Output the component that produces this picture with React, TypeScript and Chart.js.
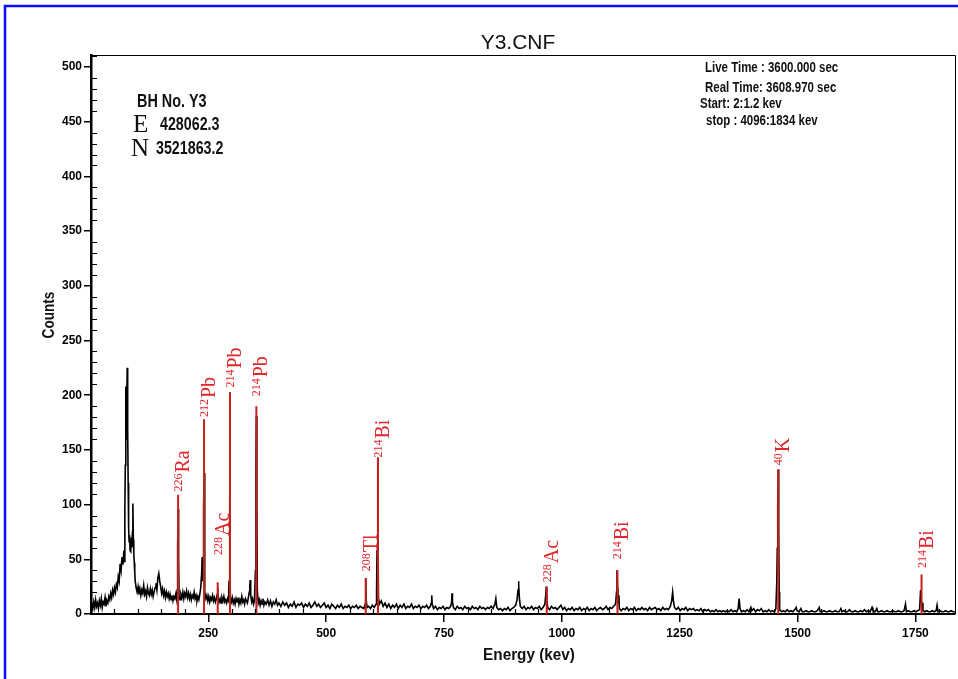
import React, { useEffect, useRef } from 'react';
import { Chart, registerables } from 'chart.js';

Chart.register(...registerables);

// ---- Spectrum (energy in keV, counts) ----
const energyKeV = [
  1.2, 3, 5, 7, 9, 11, 13, 15, 17, 19,
  21, 23, 25, 27, 29, 31, 33, 35, 37, 39,
  41, 43, 45, 47, 49, 51, 53, 55, 57, 59,
  61, 63, 65, 67, 69, 71, 72, 73, 74, 75,
  76, 77, 78, 79, 80, 81, 82, 83, 84, 85,
  86, 87, 88, 89, 90, 91, 92, 93, 94, 95,
  97, 99, 101, 103, 105, 107, 109, 111, 113, 115,
  117, 119, 121, 123, 125, 127, 129, 131, 133, 135,
  137, 139, 141, 143, 145, 147, 149, 151, 153, 155,
  157, 159, 161, 163, 165, 167, 169, 171, 173, 175,
  177, 179, 181, 183, 184, 185, 186, 187, 188, 190,
  192, 194, 196, 198, 200, 202, 204, 206, 208, 210,
  212, 214, 216, 218, 220, 222, 224, 226, 228, 230,
  232, 234, 236, 237, 238, 239, 240, 241, 242, 243,
  245, 247, 249, 251, 253, 255, 257, 259, 261, 263,
  265, 267, 269, 270, 271, 273, 275, 277, 279, 281,
  283, 285, 287, 289, 291, 293, 294, 295, 296, 297,
  299, 301, 303, 305, 307, 309, 311, 313, 315, 317,
  319, 321, 323, 325, 327, 329, 331, 333, 335, 337,
  338, 339, 340, 342, 344, 346, 348, 350, 351, 352,
  353, 354, 356, 358, 360, 362, 364, 366, 368, 370,
  373, 376, 379, 382, 385, 388, 391, 394, 397, 400,
  404, 408, 412, 416, 420, 424, 428, 432, 436, 440,
  444, 448, 452, 456, 460, 464, 468, 472, 476, 480,
  484, 488, 492, 496, 500, 504, 508, 512, 516, 520,
  524, 528, 532, 536, 540, 544, 548, 552, 556, 560,
  564, 568, 572, 576, 580, 583, 584, 585, 587, 590,
  594, 598, 602, 606, 607, 608, 609, 610, 611, 613,
  617, 621, 625, 629, 633, 637, 641, 645, 649, 653,
  657, 661, 665, 669, 673, 677, 681, 685, 689, 693,
  697, 701, 705, 709, 713, 717, 721, 723, 724, 725,
  728, 732, 736, 740, 744, 748, 752, 756, 760, 764,
  766, 767, 768, 770, 774, 778, 782, 786, 790, 794,
  798, 802, 806, 810, 814, 818, 822, 826, 830, 834,
  838, 842, 846, 850, 854, 858, 860, 862, 866, 870,
  874, 878, 882, 886, 890, 894, 898, 902, 905, 907,
  908, 909, 910, 912, 916, 920, 924, 928, 932, 936,
  940, 944, 948, 952, 956, 960, 964, 966, 967, 968,
  970, 974, 978, 982, 986, 990, 994, 998, 1002, 1006,
  1010, 1014, 1018, 1022, 1026, 1030, 1034, 1038, 1042, 1046,
  1050, 1054, 1058, 1062, 1066, 1070, 1074, 1078, 1082, 1086,
  1090, 1094, 1098, 1102, 1106, 1110, 1114, 1116, 1117, 1118,
  1119, 1121, 1122, 1126, 1130, 1134, 1138, 1142, 1146, 1150,
  1154, 1158, 1162, 1166, 1170, 1174, 1178, 1182, 1186, 1190,
  1194, 1198, 1202, 1206, 1210, 1214, 1218, 1222, 1226, 1230,
  1233, 1235, 1237, 1239, 1243, 1247, 1251, 1255, 1259, 1263,
  1267, 1271, 1275, 1279, 1283, 1287, 1291, 1295, 1299, 1303,
  1307, 1311, 1315, 1319, 1323, 1327, 1331, 1335, 1339, 1343,
  1347, 1351, 1355, 1359, 1363, 1367, 1371, 1374, 1376, 1378,
  1381, 1385, 1389, 1393, 1397, 1401, 1403, 1407, 1411, 1415,
  1419, 1423, 1427, 1431, 1435, 1439, 1443, 1447, 1451, 1454,
  1456, 1457, 1458, 1459, 1460, 1461, 1462, 1466, 1470, 1474,
  1478, 1482, 1486, 1490, 1494, 1497, 1499, 1503, 1507, 1510,
  1514, 1518, 1522, 1526, 1530, 1534, 1538, 1542, 1546, 1548,
  1552, 1556, 1560, 1564, 1568, 1572, 1576, 1580, 1584, 1588,
  1592, 1594, 1598, 1602, 1606, 1610, 1614, 1618, 1622, 1626,
  1630, 1634, 1638, 1642, 1646, 1650, 1654, 1658, 1660, 1664,
  1668, 1670, 1674, 1678, 1682, 1686, 1690, 1694, 1698, 1702,
  1706, 1710, 1714, 1718, 1722, 1726, 1729, 1731, 1735, 1739,
  1743, 1747, 1751, 1755, 1759, 1761, 1762, 1764, 1766, 1770,
  1774, 1778, 1782, 1786, 1790, 1794, 1796, 1798, 1802, 1806,
  1810, 1814, 1818, 1822, 1826, 1830, 1834,
];

const counts = [
  4, 9, 5, 11, 6, 13, 7, 10, 5, 12,
  8, 14, 6, 11, 9, 15, 7, 12, 10, 16,
  13, 19, 15, 22, 18, 24, 20, 27, 24, 34,
  30, 46, 40, 52, 45, 58, 48, 95, 136, 208,
  160, 190, 225, 170, 120, 80, 66, 72, 58, 64,
  57, 70, 61, 75, 101, 68, 55, 47, 38, 30,
  24, 20, 25, 18, 23, 17, 22, 19, 26, 18,
  21, 16, 24, 19, 17, 23, 18, 22, 16, 20,
  24, 28, 22, 33, 37, 30, 25, 19, 23, 17,
  21, 15, 20, 16, 19, 14, 18, 13, 17, 12,
  16, 14, 18, 13, 22, 62, 96, 50, 16, 13,
  18, 15, 20, 14, 19, 16, 21, 15, 19, 14,
  18, 13, 17, 15, 20, 14, 17, 12, 16, 13,
  18, 24, 38, 52, 30, 45, 95, 129, 70, 20,
  14, 17, 12, 16, 11, 15, 13, 17, 12, 15,
  11, 14, 18, 24, 15, 11, 14, 10, 15, 12,
  16, 11, 13, 10, 14, 12, 30, 107, 45, 14,
  11, 15, 10, 13, 9, 14, 11, 15, 9, 13,
  10, 16, 11, 13, 9, 14, 12, 10, 15, 20,
  26, 31, 17, 11, 14, 9, 12, 40, 130, 181,
  100, 22, 10, 13, 8, 12, 9, 14, 8, 11,
  9, 13, 8, 12, 7, 11, 9, 13, 8, 10,
  7, 11, 8, 10, 6, 9, 7, 11, 6, 9,
  8, 10, 6, 9, 7, 10, 6, 8, 11, 7,
  9, 6, 8, 10, 6, 8, 5, 9, 7, 5,
  8, 6, 9, 5, 7, 6, 8, 5, 7, 6,
  8, 5, 7, 6, 5, 9, 33, 12, 6, 7,
  5, 8, 6, 9, 20, 58, 143, 95, 15, 9,
  12, 7, 10, 6, 9, 5, 8, 6, 9, 5,
  8, 6, 9, 5, 7, 6, 9, 5, 7, 6,
  8, 5, 7, 6, 8, 5, 7, 10, 17, 9,
  5, 7, 4, 6, 5, 7, 4, 6, 5, 7,
  10, 19, 11, 6, 4, 7, 5, 6, 4, 7,
  5, 6, 4, 7, 5, 6, 4, 7, 5, 6,
  4, 6, 5, 7, 5, 9, 14, 6, 4, 5,
  3, 5, 4, 6, 3, 5, 6, 8, 13, 22,
  30, 26, 14, 7, 5, 7, 4, 6, 5, 7,
  4, 6, 5, 7, 4, 6, 9, 18, 25, 14,
  6, 4, 7, 5, 6, 4, 6, 8, 4, 6,
  3, 5, 4, 6, 3, 5, 4, 6, 3, 5,
  4, 6, 3, 5, 4, 6, 3, 5, 6, 4,
  5, 7, 4, 6, 5, 7, 9, 20, 40, 24,
  10, 17, 5, 3, 5, 4, 6, 3, 5, 4,
  6, 3, 5, 4, 6, 4, 5, 3, 6, 4,
  5, 6, 4, 5, 3, 6, 4, 5, 4, 7,
  12, 20, 11, 6, 4, 6, 3, 5, 4, 6,
  3, 5, 4, 5, 3, 4, 3, 5, 2, 4,
  3, 4, 2, 3, 2, 4, 2, 3, 2, 3,
  2, 3, 2, 4, 2, 3, 2, 5, 14, 5,
  2, 3, 2, 4, 2, 6, 3, 5, 2, 4,
  3, 5, 2, 3, 2, 4, 2, 3, 2, 5,
  30, 60, 100, 132, 80, 20, 4, 2, 3, 2,
  4, 2, 3, 2, 4, 6, 3, 2, 5, 2,
  2, 3, 2, 2, 3, 2, 2, 3, 6, 2,
  2, 3, 2, 2, 3, 2, 2, 3, 2, 2,
  5, 2, 3, 2, 2, 4, 2, 2, 3, 2,
  2, 3, 2, 4, 2, 3, 2, 6, 3, 2,
  5, 2, 2, 3, 2, 2, 3, 2, 2, 3,
  2, 2, 3, 2, 2, 3, 9, 2, 3, 2,
  2, 3, 2, 3, 4, 22, 12, 10, 3, 2,
  3, 2, 2, 3, 2, 3, 8, 2, 3, 2,
  2, 3, 2, 2, 3, 2, 2,
];

// ---- Identified gamma lines (red markers) ----
const lineEnergyKeV = [186, 241, 270, 296, 352, 584, 610, 968, 1118, 1459, 1763];
const lineCounts = [109, 178, 29, 203, 190, 33, 143, 25, 40, 132, 36];
const labelCounts = [112, 180, 54, 207, 199, 39, 143, 29, 50, 136, 42];
const labelMass = ['226', '212', '228', '214', '214', '208', '214', '228', '214', '40', '214'];
const labelElement = ['Ra', 'Pb', 'Ac', 'Pb', 'Pb', 'Tl', 'Bi', 'Ac', 'Bi', 'K', 'Bi'];

// ---- Axes ----
const yTickValues = [0, 50, 100, 150, 200, 250, 300, 350, 400, 450, 500];
const xTickValues = [250, 500, 750, 1000, 1250, 1500, 1750];

// ---- Texts ----
const chartTitle = 'Y3.CNF';
const boreholeLines = ['BH No. Y3'];
const coordLetters = ['E', 'N'];
const coordValues = ['428062.3', '3521863.2'];
const infoLines = ['Live Time : 3600.000 sec', 'Real Time: 3608.970 sec', 'Start: 2:1.2 kev', 'stop : 4096:1834 kev'];

const SANS = '"Liberation Sans", Arial, sans-serif';
const SERIF = '"Liberation Serif", "Times New Roman", serif';

function drawText(ctx: CanvasRenderingContext2D, s: string, x: number, y: number, font: string, sx = 1, align: CanvasTextAlign = 'left') {
  ctx.save();
  ctx.font = font;
  ctx.translate(x, y);
  ctx.scale(sx, 1);
  ctx.textAlign = align;
  ctx.textBaseline = 'alphabetic';
  ctx.fillText(s, 0, 0);
  ctx.restore();
}

const decorPlugin = {
  id: 'decor',
  beforeDraw(chart: any) {
    const { ctx } = chart;
    ctx.save();
    ctx.fillStyle = '#ffffff';
    ctx.fillRect(0, 0, chart.width, chart.height);
    ctx.restore();
  },
  afterDraw(chart: any) {
    const { ctx, chartArea } = chart;
    const xs = chart.scales.x;
    const ys = chart.scales.y;
    const { left, right, top, bottom } = chartArea;

    // frame top/right
    ctx.save();
    ctx.strokeStyle = '#000';
    ctx.lineWidth = 1;
    ctx.beginPath();
    ctx.moveTo(left, top + 0.5);
    ctx.lineTo(right + 0.5, top + 0.5);
    ctx.lineTo(right + 0.5, bottom);
    ctx.stroke();

    // minor ticks
    ctx.lineWidth = 1.2;
    ctx.beginPath();
    for (let v = 10; v <= 510; v += 10) {
      if (v % 50 === 0) continue;
      const py = Math.round(ys.getPixelForValue(v)) + 0.5;
      ctx.moveTo(left, py);
      ctx.lineTo(left + 6, py);
    }
    for (let v = 50; v <= 1800; v += 50) {
      if (v % 250 === 0) continue;
      const px = Math.round(xs.getPixelForValue(v)) + 0.5;
      ctx.moveTo(px, bottom);
      ctx.lineTo(px, bottom - 5);
    }
    ctx.stroke();
    ctx.restore();

    // red isotope labels (rotated)
    ctx.save();
    ctx.fillStyle = '#e3262b';
    for (let i = 0; i < lineEnergyKeV.length; i++) {
      const px = xs.getPixelForValue(lineEnergyKeV[i]);
      const py = ys.getPixelForValue(labelCounts[i]);
      ctx.save();
      ctx.translate(px + 11, py);
      ctx.rotate(-Math.PI / 2);
      ctx.textAlign = 'left';
      ctx.textBaseline = 'alphabetic';
      ctx.font = `12px ${SERIF}`;
      ctx.fillText(labelMass[i], 0, -7);
      const w = ctx.measureText(labelMass[i]).width;
      ctx.font = `20px ${SERIF}`;
      ctx.fillText(labelElement[i], w + 1, 0);
      ctx.restore();
    }
    ctx.restore();

    // texts
    ctx.save();
    ctx.fillStyle = '#111';
    drawText(ctx, chartTitle, 518, 49, `21px ${SANS}`, 1, 'center');
    drawText(ctx, boreholeLines[0], 137, 106.5, `bold 18px ${SANS}`, 0.8);
    drawText(ctx, coordLetters[0], 133, 131.5, `25px ${SERIF}`);
    drawText(ctx, coordValues[0], 160, 130, `bold 19px ${SANS}`, 0.75);
    drawText(ctx, coordLetters[1], 131, 156, `25px ${SERIF}`);
    drawText(ctx, coordValues[1], 156, 154, `bold 19px ${SANS}`, 0.75);
    const infoX = [705, 705, 700, 706];
    const infoY = [72, 92, 108, 124.5];
    infoLines.forEach((s, i) => drawText(ctx, s, infoX[i], infoY[i], `bold 14px ${SANS}`, 0.82));
    drawText(ctx, 'Energy (kev)', 529, 660, `bold 17px ${SANS}`, 0.9, 'center');
    ctx.save();
    ctx.translate(54, 315);
    ctx.rotate(-Math.PI / 2);
    drawText(ctx, 'Counts', 0, 0, `bold 16px ${SANS}`, 0.85, 'center');
    ctx.restore();
    ctx.restore();

    // blue outer border
    ctx.save();
    ctx.strokeStyle = '#0a0aff';
    ctx.lineWidth = 2.5;
    ctx.beginPath();
    ctx.moveTo(5, chart.height);
    ctx.lineTo(5, 6);
    ctx.lineTo(chart.width, 6);
    ctx.stroke();
    ctx.restore();
  },
};

export default function App() {
  const ref = useRef<HTMLCanvasElement>(null);
  useEffect(() => {
    if (!ref.current) return;
    const spectrum = energyKeV.map((e, i) => ({ x: e, y: counts[i] }));
    const markers: { x: number; y: number | null }[] = [];
    lineEnergyKeV.forEach((e, i) => {
      markers.push({ x: e, y: 0 }, { x: e, y: lineCounts[i] }, { x: e, y: null });
    });
    const chart = new Chart(ref.current, {
      type: 'line',
      data: {
        datasets: [
          {
            data: markers as any,
            borderColor: '#cc1d1d',
            borderWidth: 2,
            pointRadius: 0,
            spanGaps: false,
            order: 0,
          },
          {
            data: spectrum,
            borderColor: '#000000',
            borderWidth: 1.6,
            pointRadius: 0,
            order: 1,
          },
        ],
      },
      options: {
        animation: false,
        responsive: true,
        maintainAspectRatio: false,
        layout: { padding: { left: 0, right: 3, top: 55, bottom: 0 } },
        plugins: { legend: { display: false }, tooltip: { enabled: false }, title: { display: false } },
        scales: {
          x: {
            type: 'linear',
            min: 1.2,
            max: 1834,
            afterBuildTicks: (s: any) => {
              s.ticks = xTickValues.map((v) => ({ value: v }));
            },
            afterFit: (s: any) => {
              s.height = 65;
            },
            ticks: {
              callback: (v: any) => String(v),
              color: '#000',
              padding: 4,
              maxRotation: 0,
              autoSkip: false,
              font: { family: SANS, size: 12, weight: 'bold' },
            },
            grid: { drawOnChartArea: false, drawTicks: true, tickLength: 8, color: '#000', lineWidth: 1.5 },
            border: { display: true, color: '#000', width: 2 },
          },
          y: {
            type: 'linear',
            min: 0,
            max: 511,
            afterBuildTicks: (s: any) => {
              s.ticks = yTickValues.map((v) => ({ value: v }));
            },
            afterFit: (s: any) => {
              s.width = 91;
            },
            ticks: {
              callback: (v: any) => String(v),
              color: '#000',
              padding: 2,
              autoSkip: false,
              font: { family: SANS, size: 12, weight: 'bold' },
            },
            grid: { drawOnChartArea: false, drawTicks: true, tickLength: 7, color: '#000', lineWidth: 1.5 },
            border: { display: true, color: '#000', width: 2.5 },
          },
        },
      },
      plugins: [decorPlugin],
    });
    return () => chart.destroy();
  }, []);
  return (
    <div style={{ position: 'fixed', left: 0, top: 0, width: 958, height: 679, background: '#fff' }}>
      <canvas ref={ref} />
    </div>
  );
}
